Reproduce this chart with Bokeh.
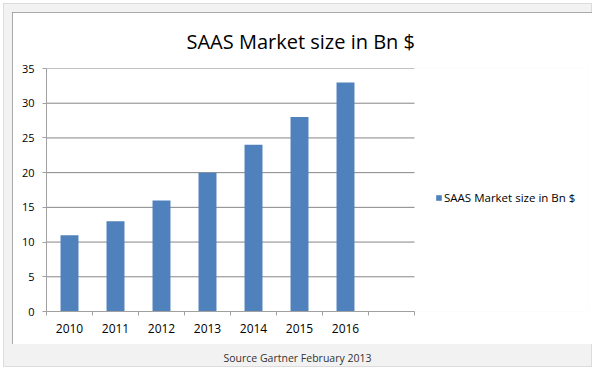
from bokeh.plotting import figure
from bokeh.models import (FixedTicker, Legend, LegendItem, LinearAxis, Range1d, Title, Div)
from bokeh.layouts import column
from bokeh.embed import file_html
from bokeh.resources import INLINE

years = ["2010", "2011", "2012", "2013", "2014", "2015", "2016"]
market = [11, 13, 16, 20, 24, 28, 33]
y_ticks = [0, 5, 10, 15, 20, 25, 30, 35]
title_text = "SAAS Market size in Bn $"
series_name = "SAAS Market size in Bn $"
caption_text = "Source Gartner February 2013"

n_slots = len(years) + 1          # seven years plus one empty slot
xs = [i + 0.5 for i in range(len(years))]

FONT = "Open Sans"
AXIS_C = "#a0a0a0"
GRID_C = "#868686"
BAR_C = "#4f81bd"

# layout (pixels)
FIG_W, FIG_H = 580, 332
LEFT, RIGHT, TOP, BOTTOM = 34, 4, 56, 33
SLOT_PX = 46
frame_w = FIG_W - LEFT - RIGHT
x_end = frame_w / SLOT_PX          # frame extends right to hold the legend

p = figure(width=FIG_W, height=FIG_H, output_backend="svg", toolbar_location=None,
           x_range=Range1d(0, x_end), y_range=Range1d(0, y_ticks[-1]),
           min_border_left=LEFT, min_border_right=RIGHT, min_border_top=TOP,
           min_border_bottom=BOTTOM,
           border_fill_color="white", background_fill_color="white",
           outline_line_color=None, x_axis_type=None, y_axis_type=None,
           margin=(12, 0, 0, 12),
           styles={"outline": "1px solid #8c8c8c", "outline-offset": "-1px"})

# horizontal gridlines across the category slots only
p.segment(x0=[0] * len(y_ticks), x1=[n_slots] * len(y_ticks), y0=y_ticks, y1=y_ticks,
          line_color=GRID_C, line_width=1)

r = p.vbar(x=xs, top=market, width=0.39, fill_color=BAR_C, line_color=None)

xaxis = LinearAxis(ticker=FixedTicker(ticks=xs, minor_ticks=list(range(n_slots + 1))),
                   bounds=(0, n_slots),
                   major_label_overrides={x: y for x, y in zip(xs, years)},
                   major_tick_out=0, major_tick_in=0,
                   minor_tick_out=4, minor_tick_in=0,
                   minor_tick_line_color=AXIS_C, axis_line_color=AXIS_C,
                   major_label_text_font=FONT, major_label_text_font_size="12px",
                   major_label_text_color="black", major_label_standoff=8)
yaxis = LinearAxis(ticker=FixedTicker(ticks=y_ticks, minor_ticks=[]),
                   major_tick_out=4, major_tick_in=0,
                   minor_tick_line_color=None, axis_line_color=AXIS_C,
                   major_tick_line_color=AXIS_C,
                   major_label_text_font=FONT, major_label_text_font_size="11px",
                   major_label_text_color="black", major_label_standoff=8)
p.add_layout(xaxis, "below")
p.add_layout(yaxis, "left")

legend = Legend(items=[LegendItem(label=series_name, renderers=[r])],
                location=(389, 106), orientation="vertical",
                background_fill_alpha=0, border_line_color=None,
                padding=0, margin=0, spacing=0,
                glyph_width=7, glyph_height=7, label_height=12, label_standoff=2,
                label_text_font=FONT, label_text_font_size="11.5px", label_text_color="black")
p.add_layout(legend)

title = Title(text=title_text, align="left", offset=140, standoff=26, vertical_align="middle",
              text_font=FONT, text_font_size="20px", text_font_style="normal",
              text_color="black")
p.add_layout(title, "above")

caption = Div(text=caption_text, width=595, height=14, margin=(7, 0, 0, 0),
              styles={"text-align": "center", "font-family": "Open Sans",
                      "font-size": "10.5px", "color": "#333333", "line-height": "14px"})

root = column(p, caption, width=595, height=370, sizing_mode="fixed", spacing=0,
              styles={"background-color": "#f2f2f2",
                      "box-shadow": "inset 0 0 0 3px #ffffff, inset 0 0 0 4px #dcdcdc"})

open("out.html", "w").write(file_html(root, INLINE))
